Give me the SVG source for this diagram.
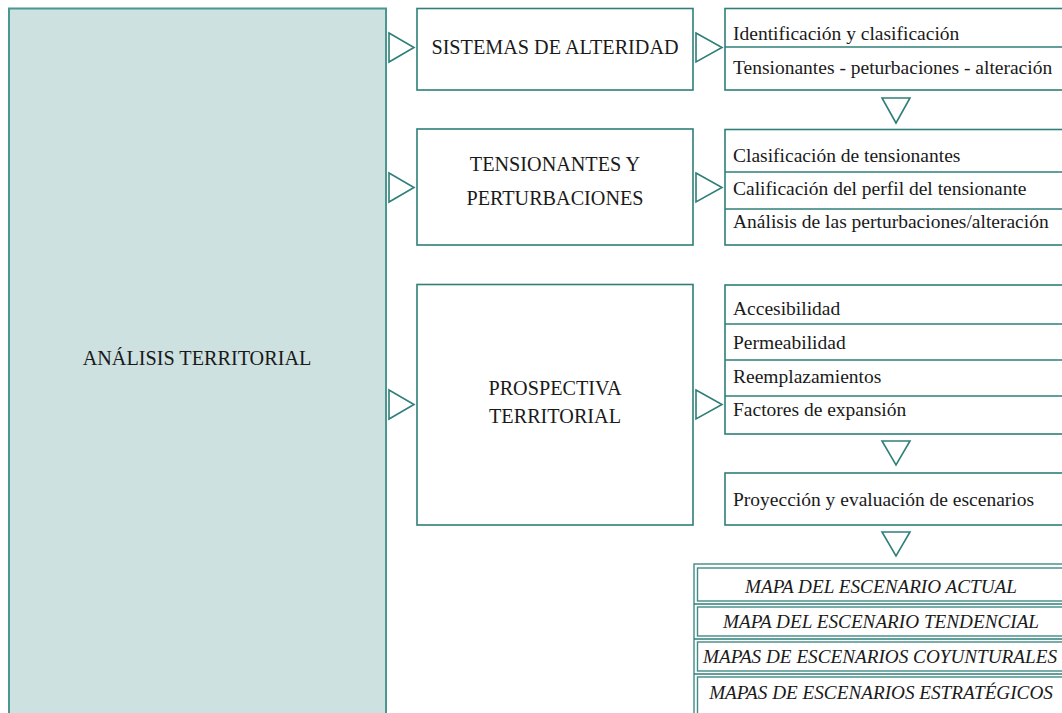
<svg xmlns="http://www.w3.org/2000/svg" width="1062" height="713" viewBox="0 0 1062 713">
<style>
.box{fill:#fff;stroke:#2f7f79;stroke-width:1.6}
.main{fill:#cde1e0;stroke:#4a9791;stroke-width:2}
.div{stroke:#2f7f79;stroke-width:1.6;fill:none}
.tri{fill:#fff;stroke:#2f7f79;stroke-width:1.6;stroke-linejoin:miter}
.t{font-family:"Liberation Serif","Times New Roman",serif;font-size:19.5px;fill:#1a1a1a}
.cap{font-size:20.2px}
.c{text-anchor:middle}
.i{font-style:italic;font-size:19.2px}
.mbox{fill:#fff;stroke:#3f8b85;stroke-width:1.4}
</style>
<rect width="1062" height="713" fill="#fff"/>
<g id="analisis">
<rect class="main" x="9" y="8.5" width="377" height="720"/>
<text class="t c cap" x="197" y="365">ANÁLISIS TERRITORIAL</text>
</g>
<g id="sistemas">
<rect class="box" x="417" y="8.5" width="276" height="81.5"/>
<text class="t c cap" x="555" y="54">SISTEMAS DE ALTERIDAD</text>
</g>
<g id="tensionantes">
<rect class="box" x="417" y="129" width="276" height="116"/>
<text class="t c cap" x="555" y="171">TENSIONANTES Y</text>
<text class="t c cap" x="555" y="205">PERTURBACIONES</text>
</g>
<g id="prospectiva">
<rect class="box" x="417" y="284.5" width="276" height="240.5"/>
<text class="t c cap" x="555" y="395">PROSPECTIVA</text>
<text class="t c cap" x="555" y="423">TERRITORIAL</text>
</g>
<g id="lista1">
<rect class="box" x="725" y="8.5" width="360" height="81.5"/>
<line class="div" x1="725" y1="47" x2="1062" y2="47"/>
<text class="t" x="733" y="40">Identificación y clasificación</text>
<text class="t" x="733" y="74">Tensionantes - peturbaciones - alteración</text>
</g>
<g id="lista2">
<rect class="box" x="725" y="129.5" width="360" height="115.5"/>
<line class="div" x1="725" y1="172" x2="1062" y2="172"/>
<line class="div" x1="725" y1="209" x2="1062" y2="209"/>
<text class="t" x="733" y="162">Clasificación de tensionantes</text>
<text class="t" x="733" y="195">Calificación del perfil del tensionante</text>
<text class="t" x="733" y="228">Análisis de las perturbaciones/alteración</text>
</g>
<g id="lista3">
<rect class="box" x="725" y="285" width="360" height="149"/>
<line class="div" x1="725" y1="324" x2="1062" y2="324"/>
<line class="div" x1="725" y1="360" x2="1062" y2="360"/>
<line class="div" x1="725" y1="396" x2="1062" y2="396"/>
<text class="t" x="733" y="315">Accesibilidad</text>
<text class="t" x="733" y="349">Permeabilidad</text>
<text class="t" x="733" y="383">Reemplazamientos</text>
<text class="t" x="733" y="416">Factores de expansión</text>
</g>
<g id="proyeccion">
<rect class="box" x="725" y="473" width="360" height="52"/>
<text class="t" x="733" y="506">Proyección y evaluación de escenarios</text>
</g>
<g id="mapas">
<rect class="mbox" x="694" y="564" width="380" height="160"/>
<line class="div" x1="694" y1="604" x2="1062" y2="604"/>
<line class="div" x1="694" y1="639" x2="1062" y2="639"/>
<line class="div" x1="694" y1="674" x2="1062" y2="674"/>
<rect class="mbox" x="697.5" y="568" width="380" height="33"/>
<rect class="mbox" x="697.5" y="607" width="380" height="29"/>
<rect class="mbox" x="697.5" y="642" width="380" height="29"/>
<rect class="mbox" x="697.5" y="677" width="380" height="40"/>
<text class="t c i" x="881" y="593">MAPA DEL ESCENARIO ACTUAL</text>
<text class="t c i" x="881" y="628">MAPA DEL ESCENARIO TENDENCIAL</text>
<text class="t c i" x="880" y="663">MAPAS DE ESCENARIOS COYUNTURALES</text>
<text class="t c i" x="881" y="699">MAPAS DE ESCENARIOS ESTRATÉGICOS</text>
</g>
<g id="connectors">
<polygon class="tri" points="389,33 414,47.5 389,62"/>
<polygon class="tri" points="389,173 414,187.5 389,202"/>
<polygon class="tri" points="389,390 414,404.5 389,419"/>
<polygon class="tri" points="696,33 722,47.5 696,62"/>
<polygon class="tri" points="696,173 722,187.5 696,202"/>
<polygon class="tri" points="696,390 722,404.5 696,419"/>
<polygon class="tri" points="882,98 910,98 896,123"/>
<polygon class="tri" points="882,441 910,441 896,465"/>
<polygon class="tri" points="882,532 910,532 896,556"/>
</g>
</svg>
